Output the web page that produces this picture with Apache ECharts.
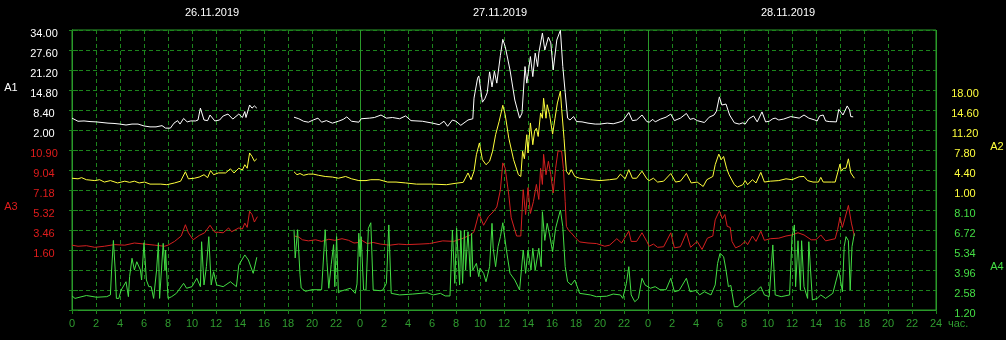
<!DOCTYPE html>
<html><head><meta charset="utf-8">
<script src="https://cdn.jsdelivr.net/npm/echarts@6/dist/echarts.min.js"></script>
<style>html,body{margin:0;padding:0;background:#000;}#c{width:1006px;height:340px;}</style>
</head><body><div id="c"></div>
<script>
// ---- tick / label data ----
const dayLabels = ['26.11.2019', '27.11.2019', '28.11.2019'];
const seriesNames = ['A1', 'A2', 'A3', 'A4'];
const hourUnit = 'час.';
// axis ranges [min, max, step] for each series band
const a1Range = [2, 34, 6.4];
const a2Range = [1, 18, 3.4];
const a3Range = [1.6, 10.9, 1.86];
const a4Range = [1.2, 8.1, 1.38];

// ---- series data: [hour since 26.11 00:00, value]; '-' = no data ----
const a1Data = [[0,5.8],[0.5,4.8],[1,4.9],[1.5,4.7],[2,4.6],[2.5,4.4],[3,4.2],[3.5,4.1],[4,3.9],[4.5,3.6],[5,3.9],[5.5,3.9],[6,3.3],[6.5,3.0],[7,3.0],[7.5,3.4],[7.8,2.6],[8.2,2.6],[8.5,4.2],[8.8,5.0],[9.0,3.9],[9.3,5.7],[9.6,4.6],[9.9,4.9],[10.3,4.9],[10.5,5.2],[10.7,9.0],[11.0,5.2],[11.3,5.0],[11.5,6.8],[11.9,4.9],[12.3,5.2],[12.6,6.5],[13.0,7.1],[13.4,5.5],[13.9,7.1],[14.2,6.0],[14.4,7.9],[14.5,6.0],[14.8,10.0],[15.0,9.0],[15.2,9.7],[15.4,9.0],[15.6,'-'],
[18.5,6.1],[18.9,5.6],[19.3,4.8],[19.7,4.5],[20.1,5.2],[20.5,5.8],[20.8,4.5],[21.2,5.0],[21.7,4.2],[22.2,4.8],[22.6,5.4],[22.9,6.2],[23.3,4.8],[23.9,4.5],
[24.1,5.6],[24.8,5.8],[25.2,6.0],[25.75,6.8],[26.2,5.8],[26.7,6.0],[27.3,5.6],[27.8,6.5],[28.25,5.0],[29.2,4.8],[30.05,4.2],[30.6,3.7],[31.0,4.8],[31.3,3.2],[31.7,5.2],[32.0,4.8],[32.4,3.5],[33.0,5.2],[33.4,5.6],[33.5,12.2],[33.8,18.6],[33.9,19.3],[34.2,10.9],[34.4,12.0],[34.6,13.9],[34.8,20.6],[35.0,15.8],[35.2,20.8],[35.4,17.0],[35.7,25.9],[35.9,31.0],[36.1,28.7],[36.5,21.2],[36.9,11.6],[37.3,5.8],[37.5,7.4],[37.75,22.3],[37.9,17.0],[38.2,25.5],[38.4,19.1],[38.6,26.6],[38.8,22.3],[38.9,26.6],[39.2,33.0],[39.4,27.6],[39.7,31.7],[39.9,29.9],[40.1,21.2],[40.4,30.8],[40.7,33.9],[40.9,22.3],[41.1,14.0],[41.3,5.8],[41.5,5.2],[41.8,6.3],[42.05,4.7],[42.5,4.6],[43.0,4.2],[43.6,3.9],[44.0,3.9],[44.6,4.2],[45.1,4.0],[45.5,4.4],[45.9,4.9],[46.4,7.6],[46.7,5.0],[47.05,5.2],[47.5,6.8],[47.9,4.7],
[48.1,4.5],[48.4,5.4],[48.6,4.6],[49.05,5.5],[49.5,6.1],[49.9,7.1],[50.2,5.0],[50.7,5.8],[51.2,7.3],[51.5,5.4],[51.8,5.7],[52.1,5.0],[52.7,4.4],[53.1,6.1],[53.5,6.8],[53.7,8.0],[53.95,12.6],[54.15,10.0],[54.3,10.5],[54.5,10.3],[54.8,6.8],[55.2,4.3],[55.6,3.9],[55.9,4.3],[56.1,3.9],[56.4,5.6],[56.8,6.5],[57.1,4.6],[57.5,7.8],[57.8,4.6],[58.1,4.8],[58.4,5.6],[58.6,5.8],[58.9,5.2],[59.3,5.5],[59.9,6.3],[60.6,5.8],[61.0,6.8],[61.4,5.8],[61.9,5.2],[62.1,4.9],[62.3,6.5],[62.6,6.8],[62.8,4.9],[63.1,4.7],[63.7,4.6],[63.9,8.6],[64.25,6.8],[64.6,9.7],[64.8,8.4],[64.9,6.3],[65.1,6.2]];

const a2Data = [[0,3.0],[0.5,2.9],[0.8,3.1],[1.2,2.75],[1.9,2.6],[2.3,2.75],[2.7,2.35],[3.2,2.6],[3.8,2.2],[4.4,2.5],[4.8,2.3],[5.2,2.5],[5.6,2.2],[6.05,2.35],[6.5,2.0],[7.4,2.0],[7.9,1.9],[8.55,2.2],[9.05,2.5],[9.45,4.1],[9.7,2.9],[10.2,3.0],[10.6,3.2],[11.0,3.6],[11.3,3.1],[11.55,4.3],[11.8,3.6],[12.2,3.9],[12.8,3.9],[13.2,4.6],[13.5,3.9],[13.9,4.7],[14.2,4.4],[14.4,5.3],[14.6,4.7],[14.8,7.3],[15.0,6.7],[15.2,5.9],[15.4,6.3],[15.6,'-'],
[18.5,4.1],[18.75,3.6],[19.0,3.8],[19.3,3.5],[19.7,3.7],[20.1,3.7],[20.55,3.5],[21.1,3.3],[21.7,3.2],[22.2,3.0],[22.8,3.3],[23.3,2.9],[23.9,2.6],
[24.0,2.9],[24.5,2.6],[24.9,2.75],[25.6,2.75],[26.3,2.35],[27.0,2.35],[27.8,2.2],[28.7,2.0],[30.05,2.0],[31.2,1.9],[32.0,2.15],[32.6,2.3],[33.0,3.9],[33.25,2.75],[33.5,4.2],[33.7,7.0],[33.95,9.0],[34.2,6.15],[34.5,5.3],[34.8,5.9],[35.05,7.6],[35.3,10.4],[35.6,12.7],[35.9,15.4],[36.1,13.8],[36.4,9.8],[36.8,6.15],[37.2,3.6],[37.4,3.3],[37.55,7.6],[37.7,6.3],[37.9,10.4],[38.0,7.3],[38.2,12.4],[38.4,8.7],[38.55,11.0],[38.7,11.5],[38.85,10.1],[39.05,14.1],[39.2,13.2],[39.3,16.6],[39.5,13.2],[39.6,15.5],[39.8,13.8],[40.05,10.5],[40.25,13.2],[40.45,15.8],[40.7,17.8],[40.8,14.9],[41.0,9.8],[41.2,4.2],[41.4,3.6],[41.6,4.45],[41.9,3.3],[42.3,3.0],[43.2,2.75],[44.0,2.6],[44.8,2.75],[45.4,2.9],[45.7,3.7],[46.1,2.9],[46.4,4.45],[46.7,3.0],[47.05,3.0],[47.5,4.2],[47.9,2.9],
[48.1,2.6],[48.45,3.0],[48.8,2.35],[49.3,2.5],[49.9,3.8],[50.3,2.35],[50.7,2.5],[51.2,3.8],[51.6,2.2],[52.1,2.35],[52.6,1.6],[52.9,2.75],[53.4,3.3],[53.6,5.3],[53.9,7.1],[54.1,6.15],[54.3,6.7],[54.55,4.7],[54.75,3.6],[54.9,3.9],[55.2,1.9],[55.45,1.5],[55.9,1.9],[56.1,2.6],[56.3,1.9],[56.7,2.75],[57.0,2.2],[57.4,4.0],[57.7,2.35],[58.2,2.5],[58.9,2.6],[59.5,2.9],[60.0,2.75],[60.6,3.25],[61.0,3.3],[61.3,2.6],[61.75,2.35],[62.2,2.35],[62.4,3.15],[62.6,2.35],[63.3,2.35],[63.6,2.35],[63.8,3.9],[64.0,5.4],[64.1,4.2],[64.3,4.7],[64.5,4.7],[64.7,6.3],[64.9,3.9],[65.2,3.0]];

const a3Data = [[0,2.05],[0.5,1.95],[1.2,2.0],[1.9,1.85],[2.7,1.95],[3.55,2.1],[4.4,2.05],[5.2,2.25],[6.05,2.15],[6.9,2.05],[7.7,1.95],[8.0,2.05],[8.55,2.4],[9.1,2.9],[9.45,3.95],[9.7,3.2],[10.1,2.55],[10.6,2.95],[11.05,3.2],[11.5,3.9],[11.9,3.25],[12.2,3.25],[12.6,3.2],[13.05,3.65],[13.3,3.3],[13.9,3.65],[14.2,3.55],[14.4,4.1],[14.6,3.7],[14.8,5.2],[15.0,4.9],[15.2,4.2],[15.45,4.7],[15.6,'-'],
[18.55,2.9],[18.9,2.8],[19.2,2.55],[19.7,2.45],[20.3,2.55],[20.8,2.4],[21.4,2.6],[21.9,2.5],[22.5,2.65],[23.05,2.5],[23.5,2.25],[23.9,2.3],
[24.0,2.6],[24.6,2.2],[25.1,2.3],[25.7,2.15],[26.5,2.05],[27.2,2.15],[27.9,2.1],[29.0,2.15],[29.8,2.2],[30.9,2.45],[31.8,2.4],[32.6,2.7],[33.2,3.0],[33.5,3.3],[33.9,5.0],[34.3,3.9],[34.7,4.7],[35.1,5.15],[35.4,5.6],[35.7,7.2],[35.9,9.7],[36.1,9.2],[36.4,6.7],[36.6,4.6],[37.05,2.9],[37.4,2.9],[37.6,7.2],[37.8,4.9],[38.0,7.4],[38.2,5.0],[38.45,6.1],[38.7,7.7],[38.9,6.3],[39.05,9.2],[39.2,7.7],[39.3,10.5],[39.5,8.6],[39.7,9.85],[39.9,8.6],[40.1,6.9],[40.3,9.2],[40.5,10.8],[40.8,10.8],[40.95,9.2],[41.1,6.1],[41.2,3.8],[41.4,3.4],[41.6,3.2],[41.9,2.8],[42.3,2.35],[43.0,2.25],[43.7,2.2],[44.4,1.95],[44.8,2.05],[45.4,2.65],[45.8,2.25],[46.4,3.35],[46.6,2.4],[47.05,2.4],[47.5,3.2],[47.9,2.4],
[48.1,1.95],[48.45,2.15],[48.8,1.85],[49.3,1.9],[49.9,3.2],[50.2,1.8],[50.7,1.9],[51.2,3.2],[51.55,1.85],[52.1,2.4],[52.5,1.65],[52.95,2.7],[53.4,2.9],[53.6,4.4],[53.95,5.25],[54.2,4.5],[54.4,4.9],[54.6,3.8],[54.85,3.7],[55.0,2.4],[55.3,1.8],[55.7,2.0],[56.1,2.4],[56.3,2.1],[56.7,2.9],[57.0,2.4],[57.4,3.35],[57.7,2.5],[58.2,2.65],[58.9,2.7],[59.5,2.9],[60.0,3.0],[60.5,3.2],[61.0,3.0],[61.6,2.55],[62.0,2.55],[62.4,3.0],[62.8,2.45],[63.6,2.65],[63.8,3.5],[64.0,4.65],[64.2,3.7],[64.4,4.5],[64.7,5.75],[64.95,4.1],[65.2,2.9]];

const a4Data = [[0,2.17],[0.25,2.0],[1.2,2.2],[2.05,2.08],[2.9,2.12],[3.2,2.24],[3.3,3.96],[3.45,6.0],[3.6,3.96],[3.7,2.0],[3.9,2.0],[4.1,2.58],[4.5,3.15],[4.7,2.12],[4.8,3.5],[5.0,4.77],[5.2,3.96],[5.4,4.53],[5.7,3.96],[5.8,3.27],[6.0,5.84],[6.2,3.27],[6.4,2.81],[6.6,2.81],[6.8,2.0],[7.05,3.96],[7.2,5.84],[7.3,2.0],[7.6,5.8],[7.75,3.96],[7.8,5.34],[8.0,2.0],[8.3,2.12],[8.7,2.35],[9.3,3.04],[9.55,2.7],[10.0,2.81],[10.4,3.39],[10.7,2.81],[10.8,5.91],[11.0,2.93],[11.2,4.19],[11.4,6.26],[11.6,2.93],[11.8,3.84],[12.05,2.93],[12.6,2.81],[13.2,3.15],[13.7,2.81],[13.9,4.3],[14.4,5.0],[14.7,4.65],[15.1,3.73],[15.4,4.84],[15.6,'-'],
[18.5,6.74],[18.6,4.79],[18.8,6.74],[19.0,3.64],[19.1,2.72],[19.45,2.49],[20.0,2.6],[20.8,2.6],[21.1,6.74],[21.25,4.5],[21.4,2.7],[21.6,4.33],[21.8,5.71],[21.9,2.81],[22.05,6.26],[22.2,2.39],[22.4,2.5],[22.8,2.6],[23.2,2.7],[23.6,2.35],[23.75,3.0],[23.9,6.5],
[24.0,4.88],[24.1,6.26],[24.3,2.58],[24.5,2.58],[24.7,6.84],[24.9,7.22],[25.1,2.58],[25.7,2.53],[25.9,2.58],[26.2,3.04],[26.4,7.07],[26.6,2.35],[27.3,2.24],[28.4,2.3],[29.6,2.39],[30.1,2.24],[30.7,2.35],[31.1,2.17],[31.5,2.17],[31.7,6.72],[31.9,3.04],[32.05,6.84],[32.3,2.93],[32.4,6.67],[32.55,3.04],[32.7,6.72],[32.8,3.96],[33.0,6.6],[33.2,3.5],[33.3,6.49],[33.4,3.96],[33.7,4.42],[33.9,3.5],[34.0,4.08],[34.3,3.73],[34.5,3.15],[34.8,4.19],[35.0,7.18],[35.1,5.46],[35.3,4.19],[35.5,5.57],[35.7,6.26],[35.9,7.22],[36.2,5.34],[36.5,3.73],[36.9,3.27],[37.3,2.58],[37.6,5.34],[37.8,3.73],[38.0,5.34],[38.25,3.96],[38.4,5.46],[38.6,3.96],[38.9,5.46],[39.1,4.19],[39.2,7.98],[39.4,6.0],[39.6,7.18],[39.8,6.38],[40.05,5.22],[40.3,6.84],[40.7,8.1],[40.9,6.95],[41.1,4.19],[41.3,3.15],[41.6,2.93],[41.9,3.27],[42.3,2.35],[43.2,2.24],[43.7,2.12],[44.55,2.15],[45.1,2.3],[45.7,2.24],[45.9,2.0],[46.2,3.04],[46.4,4.19],[46.6,2.24],[46.9,1.77],[47.2,2.0],[47.5,3.39],[47.75,2.93],
[48.2,2.7],[48.6,2.81],[49.0,2.6],[49.5,2.6],[49.9,3.39],[50.2,2.46],[50.6,2.55],[51.2,3.39],[51.5,2.46],[52.0,2.55],[52.3,2.24],[52.7,2.46],[53.25,2.24],[53.6,2.93],[53.8,4.42],[54.0,5.11],[54.3,4.88],[54.5,3.96],[54.7,2.81],[54.9,2.9],[55.2,1.43],[55.5,1.43],[55.75,1.66],[56.2,2.0],[56.6,2.24],[57.0,2.46],[57.4,2.81],[57.7,2.24],[58.1,2.12],[58.4,5.69],[58.6,2.24],[59.1,2.12],[59.8,2.24],[60.0,6.26],[60.2,7.07],[60.3,2.81],[60.5,5.98],[60.7,2.58],[60.8,5.98],[61.0,2.81],[61.3,2.0],[61.4,5.91],[61.7,1.89],[62.1,2.0],[62.4,2.24],[62.8,2.0],[63.4,2.35],[63.9,3.96],[64.2,2.46],[64.35,5.57],[64.5,6.26],[64.7,5.98],[64.85,2.58],[65.0,5.57],[65.2,6.49]];

// ---- styling ----
const FONT = 'Liberation Sans, Arial, sans-serif';
const GRID_DASH = '#1c851c';
const FRAME = '#2a9a2a';
const XLAB = '#2f9c2f';
const C1 = '#ffffff', C2 = '#ffff3c', C3 = '#e01c1c', C3L = '#d42020', C4 = '#44dd44';

const L = 72, W = 864, T = 30, H = 280;
const chart = echarts.init(document.getElementById('c'), null, {renderer: 'canvas'});

function bandY(idx, range, pos, color) {
  return {
    gridIndex: idx, type: 'value', position: pos,
    min: range[0], max: range[1], interval: range[2],
    axisLine: {show: false}, axisTick: {show: false}, splitLine: {show: false},
    axisLabel: {
      show: true, color: color, fontFamily: FONT, fontSize: 11,
      align: 'center', verticalAlign: 'top', lineHeight: 8,
      margin: pos === 'left' ? 28 : 29,
      formatter: v => v.toFixed(2)
    }
  };
}
function bandX(idx) {
  return {gridIndex: idx, type: 'value', min: 0, max: 72, show: false};
}
function line(name, data, xi, yi, color) {
  return {
    name: name, type: 'line', xAxisIndex: xi, yAxisIndex: yi, data: data,
    showSymbol: false, symbol: 'none', connectNulls: false, animation: false,
    lineStyle: {color: color, width: 1}, z: 5
  };
}

const option = {
  backgroundColor: '#000000',
  animation: false,
  grid: [
    {left: L, top: T, width: W, height: H, show: true, borderColor: FRAME, borderWidth: 1, backgroundColor: 'transparent'},
    {left: L, top: 30, width: W, height: 100},
    {left: L, top: 90, width: W, height: 100},
    {left: L, top: 150, width: W, height: 100},
    {left: L, top: 210, width: W, height: 100}
  ],
  xAxis: [
    {
      gridIndex: 0, type: 'value', position: 'bottom', min: 0, max: 72, interval: 2,
      axisLine: {show: true, lineStyle: {color: FRAME, width: 1}},
      axisTick: {show: true, length: 4, lineStyle: {color: GRID_DASH}},
      splitLine: {show: true, lineStyle: {color: GRID_DASH, type: [4, 3], width: 1}},
      axisLabel: {
        color: XLAB, fontFamily: FONT, fontSize: 11, margin: 8,
        showMinLabel: true, showMaxLabel: true,
        formatter: v => (v === 72 ? '24' : String(v % 24))
      },
      name: hourUnit, nameLocation: 'end', nameGap: 8,
      nameTextStyle: {color: XLAB, fontFamily: FONT, fontSize: 11, align: 'left', verticalAlign: 'top', padding: [8, 0, 0, 0]}
    },
    {
      gridIndex: 0, type: 'value', position: 'top', min: 0, max: 72, interval: 24,
      axisLine: {show: true, lineStyle: {color: FRAME}},
      axisTick: {show: false}, axisLabel: {show: false},
      splitLine: {show: true, lineStyle: {color: FRAME, type: 'solid', width: 1}}
    },
    {
      gridIndex: 1, type: 'value', position: 'top', min: 0, max: 72, interval: 12,
      axisLine: {show: false}, axisTick: {show: false}, splitLine: {show: false},
      axisLabel: {
        color: '#ffffff', fontFamily: FONT, fontSize: 11, margin: 12,
        padding: [0, 8, 0, 0],
        formatter: v => (v % 24 === 12 ? dayLabels[(v - 12) / 24] : '')
      }
    },
    bandX(2), bandX(3), bandX(4)
  ],
  yAxis: [
    {
      gridIndex: 0, type: 'value', position: 'left', min: 0, max: 14, interval: 1,
      axisLine: {show: true, lineStyle: {color: FRAME}},
      axisTick: {show: true, length: 3, lineStyle: {color: GRID_DASH}},
      axisLabel: {show: false},
      splitLine: {show: true, lineStyle: {color: GRID_DASH, type: [4, 3], width: 1}}
    },
    {
      gridIndex: 0, type: 'value', position: 'right', min: 0, max: 14, interval: 1,
      axisLine: {show: true, lineStyle: {color: FRAME}},
      axisTick: {show: true, length: 6, lineStyle: {color: GRID_DASH}},
      axisLabel: {show: false}, splitLine: {show: false}
    },
    bandY(1, a1Range, 'left', C1),
    bandY(2, a2Range, 'right', C2),
    bandY(3, a3Range, 'left', C3),
    bandY(4, a4Range, 'right', C4)
  ],
  graphic: [
    {type: 'text', x: 11, y: 88, style: {text: seriesNames[0], fill: C1, font: '11px ' + FONT, align: 'center', verticalAlign: 'middle'}},
    {type: 'text', x: 997, y: 147, style: {text: seriesNames[1], fill: C2, font: '11px ' + FONT, align: 'center', verticalAlign: 'middle'}},
    {type: 'text', x: 11, y: 207, style: {text: seriesNames[2], fill: C3, font: '11px ' + FONT, align: 'center', verticalAlign: 'middle'}},
    {type: 'text', x: 997, y: 267, style: {text: seriesNames[3], fill: C4, font: '11px ' + FONT, align: 'center', verticalAlign: 'middle'}}
  ],
  series: [
    line(seriesNames[0], a1Data, 2, 2, C1),
    line(seriesNames[1], a2Data, 3, 3, C2),
    line(seriesNames[2], a3Data, 4, 4, C3L),
    line(seriesNames[3], a4Data, 5, 5, C4)
  ]
};
chart.setOption(option);
</script></body></html>
